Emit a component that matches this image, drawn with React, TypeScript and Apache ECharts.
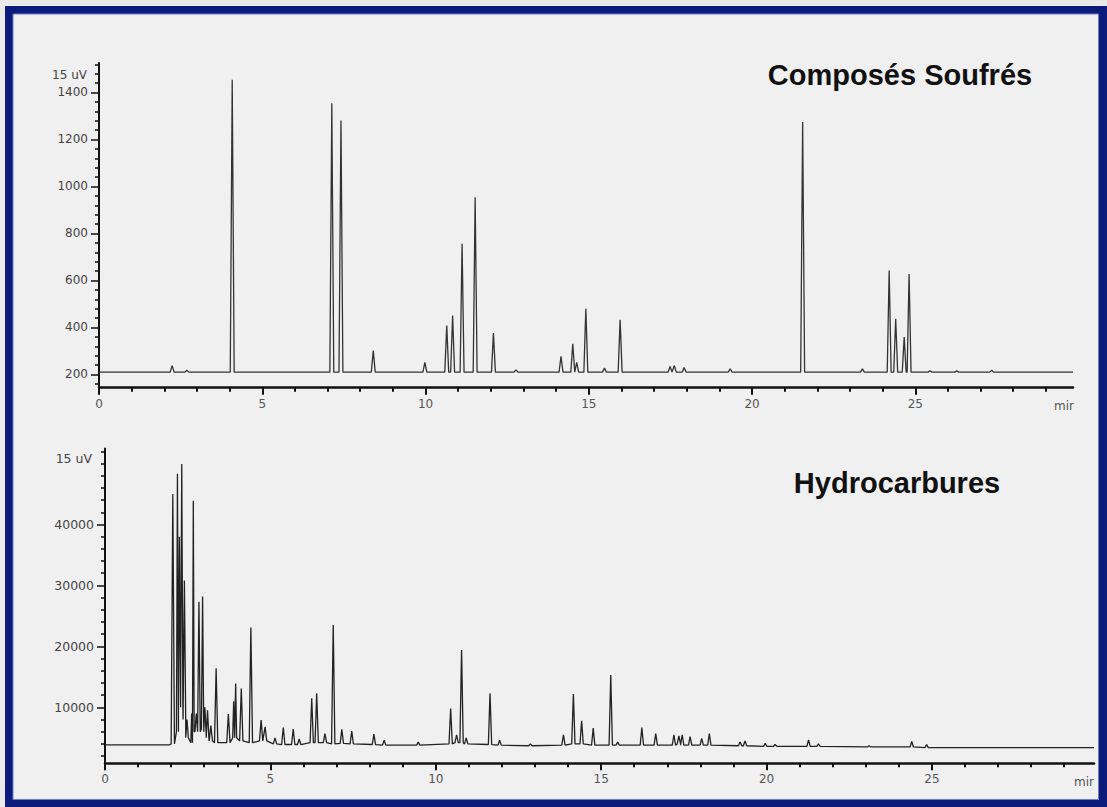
import React, { useEffect, useRef } from "react";
import * as echarts from "echarts";

// ---- Composés Soufrés (top chromatogram) ----
const sulfurTimes = [2.24, 2.69, 4.08, 7.13, 7.41, 8.4, 9.98, 10.65, 10.83, 11.12, 11.52, 12.08, 12.77, 14.15, 14.51, 14.63, 14.91, 15.48, 15.96, 17.49, 17.62, 17.92, 19.33, 21.55, 23.38, 24.2, 24.4, 24.66, 24.81, 25.45, 26.27, 27.34];
const sulfurHeights = [238, 218, 1454, 1354, 1281, 302, 252, 408, 451, 756, 954, 376, 220, 277, 331, 252, 480, 228, 433, 234, 238, 230, 224, 1274, 224, 642, 437, 359, 628, 216, 216, 218];
const sulfurBaseline = 210;
const sulfurEndTime = 29.83;

// ---- Hydrocarbures (bottom chromatogram) ----
const hcTimes = [2.05, 2.19, 2.25, 2.32, 2.4, 2.48, 2.62, 2.67, 2.76, 2.84, 2.95, 3.02, 3.1, 3.2, 3.36, 3.73, 3.89, 3.95, 4.12, 4.41, 4.72, 4.84, 5.14, 5.39, 5.69, 5.87, 6.25, 6.4, 6.65, 6.9, 7.16, 7.46, 8.13, 8.44, 9.47, 10.45, 10.63, 10.78, 10.92, 11.64, 11.93, 12.86, 13.86, 14.16, 14.41, 14.76, 15.29, 15.5, 16.23, 16.65, 17.2, 17.35, 17.45, 17.69, 18.04, 18.27, 19.2, 19.35, 19.96, 20.26, 21.27, 21.57, 23.1, 24.39, 24.84];
const hcHeights = [45000, 48300, 38000, 49900, 30800, 8000, 9000, 43900, 9000, 27300, 28200, 10000, 9500, 7000, 16400, 8900, 11000, 13900, 13100, 23100, 7900, 6800, 5000, 6700, 6450, 4800, 11500, 12300, 5700, 23500, 6400, 6100, 5600, 4600, 4300, 9800, 5500, 19400, 5000, 12300, 4600, 4000, 5500, 12200, 7800, 6600, 15300, 4300, 6700, 5700, 5500, 5300, 5500, 5200, 4900, 5700, 4300, 4500, 4100, 3900, 4650, 4000, 3700, 4400, 3900];
const hcFeet = [4000, 6000, 12000, 10000, 8000, 5000, 4200, 6000, 6000, 6000, 6500, 6000, 5000, 4500, 4200, 4200, 5000, 5000, 4500, 4200, 4500, 4500, 4000, 3900, 3900, 3900, 4200, 4200, 4200, 4000, 4100, 4000, 3900, 3800, 3800, 4000, 4200, 4200, 4000, 3900, 3800, 3700, 3800, 4000, 4000, 3800, 3800, 3800, 3800, 3800, 3800, 4000, 3800, 3800, 3800, 3800, 3700, 3700, 3600, 3600, 3600, 3600, 3500, 3500, 3400];
const hcStartLevel = 3830;
const hcFirstRise = 1.95;
const hcEndLevel = 3400;
const hcEndTime = 29.9;

// ---- Axis ticks ----
const xTicks = [0, 5, 10, 15, 20, 25];
const xMinorTicks = [1, 2, 3, 4, 6, 7, 8, 9, 11, 12, 13, 14, 16, 17, 18, 19, 21, 22, 23, 24, 26, 27, 28, 29];
const topYTicks = [200, 400, 600, 800, 1000, 1200, 1400];
const topYMinorTicks = [160, 240, 280, 320, 360, 440, 480, 520, 560, 640, 680, 720, 760, 840, 880, 920, 960, 1040, 1080, 1120, 1160, 1240, 1280, 1320, 1360, 1440, 1480, 1520];
const bottomYTicks = [10000, 20000, 30000, 40000];
const bottomYMinorTicks = [2000, 4000, 6000, 8000, 12000, 14000, 16000, 18000, 22000, 24000, 26000, 28000, 32000, 34000, 36000, 38000, 42000, 44000, 46000, 48000, 50000, 52000];

const topYMin = 143.8;
const topYMax = 1525.5;
const bottomYMin = 820;
const bottomYMax = 52460;

function buildTrace(
  times: number[],
  heights: number[],
  feet: number[],
  halfWidth: number,
  start: number[][],
  end: number[][]
) {
  const pts: number[][] = [...start];
  for (let i = 0; i < times.length; i++) {
    const t = times[i];
    let w = halfWidth;
    if (i > 0) w = Math.min(w, (t - times[i - 1]) / 2);
    if (i < times.length - 1) w = Math.min(w, (times[i + 1] - t) / 2);
    pts.push([t - w, feet[i]], [t, heights[i]], [t + w, feet[i]]);
  }
  return pts.concat(end);
}

const AXIS_COLOR = "#111";
const LABEL_FONT = "DejaVu Sans";
const plain = (v: number) => String(v);

function majorX(gridIndex: number, max: number) {
  return {
    type: "value",
    gridIndex,
    min: 0,
    max,
    position: "bottom",
    axisLine: { show: true, lineStyle: { color: AXIS_COLOR, width: 2.5 } },
    axisTick: { show: true, customValues: xTicks, length: 7, lineStyle: { color: AXIS_COLOR, width: 2 } },
    axisLabel: { show: true, customValues: xTicks, formatter: plain, margin: 10, fontSize: 12, color: "#555", fontFamily: LABEL_FONT },
    splitLine: { show: false },
  };
}
function minorX(gridIndex: number, max: number) {
  return {
    type: "value",
    gridIndex,
    min: 0,
    max,
    position: "bottom",
    axisLine: { show: false },
    axisTick: { show: true, customValues: xMinorTicks, length: 4, lineStyle: { color: AXIS_COLOR, width: 2 } },
    axisLabel: { show: false },
    splitLine: { show: false },
  };
}
function majorY(gridIndex: number, min: number, max: number, ticks: number[], fontSize: number) {
  return {
    type: "value",
    gridIndex,
    min,
    max,
    position: "left",
    axisLine: { show: true, lineStyle: { color: AXIS_COLOR, width: 2 } },
    axisTick: { show: true, customValues: ticks, length: 8, lineStyle: { color: AXIS_COLOR, width: 1.5 } },
    axisLabel: { show: true, customValues: ticks, formatter: plain, margin: 11, fontSize, color: "#444", fontFamily: LABEL_FONT },
    splitLine: { show: false },
  };
}
function minorY(gridIndex: number, min: number, max: number, ticks: number[]) {
  return {
    type: "value",
    gridIndex,
    min,
    max,
    position: "left",
    axisLine: { show: false },
    axisTick: { show: true, customValues: ticks, length: 4, lineStyle: { color: AXIS_COLOR, width: 1.5 } },
    axisLabel: { show: false },
    splitLine: { show: false },
  };
}

export default function App() {
  const ref = useRef<HTMLDivElement>(null);

  useEffect(() => {
    if (!ref.current) return;
    const chart = echarts.init(ref.current, undefined, { renderer: "svg" });

    const sulfurTrace = buildTrace(
      sulfurTimes,
      sulfurHeights,
      sulfurTimes.map(() => sulfurBaseline),
      0.06,
      [[0, sulfurBaseline]],
      [[sulfurEndTime, sulfurBaseline]]
    );
    const hcTrace = buildTrace(
      hcTimes,
      hcHeights,
      hcFeet,
      0.05,
      [[0, hcStartLevel], [hcFirstRise, hcStartLevel]],
      [[hcEndTime, hcEndLevel]]
    );

    const borderBlue = "#0c1a7c";
    const innerBlue = "#6b7fc4";

    chart.setOption({
      animation: false,
      backgroundColor: "#f0f0f0",
      grid: [
        { left: 99, top: 63, width: 974, height: 324.7 },
        { left: 105, top: 448.5, width: 989, height: 314.8 },
      ],
      xAxis: [
        majorX(0, sulfurEndTime),
        minorX(0, sulfurEndTime),
        majorX(1, hcEndTime),
        minorX(1, hcEndTime),
      ],
      yAxis: [
        majorY(0, topYMin, topYMax, topYTicks, 12),
        minorY(0, topYMin, topYMax, topYMinorTicks),
        majorY(1, bottomYMin, bottomYMax, bottomYTicks, 12.5),
        minorY(1, bottomYMin, bottomYMax, bottomYMinorTicks),
      ],
      series: [
        {
          name: "Composés Soufrés",
          type: "line",
          xAxisIndex: 0,
          yAxisIndex: 0,
          data: sulfurTrace,
          showSymbol: false,
          lineStyle: { color: "#333", width: 1.3 },
        },
        {
          name: "Hydrocarbures",
          type: "line",
          xAxisIndex: 2,
          yAxisIndex: 2,
          data: hcTrace,
          showSymbol: false,
          lineStyle: { color: "#222", width: 1.3 },
        },
      ],
      graphic: [
        { type: "rect", shape: { x: 0, y: 0, width: 1107, height: 807 }, style: { fill: "none", stroke: "#eaeaea", lineWidth: 10 }, silent: true },
        { type: "rect", shape: { x: 5, y: 6, width: 1102, height: 8 }, style: { fill: borderBlue }, silent: true },
        { type: "rect", shape: { x: 5, y: 6, width: 8, height: 801 }, style: { fill: borderBlue }, silent: true },
        { type: "rect", shape: { x: 1099, y: 6, width: 8, height: 801 }, style: { fill: borderBlue }, silent: true },
        { type: "rect", shape: { x: 5, y: 800, width: 1102, height: 7 }, style: { fill: borderBlue }, silent: true },
        { type: "rect", shape: { x: 13, y: 14, width: 1085.5, height: 785.5 }, style: { fill: "none", stroke: innerBlue, lineWidth: 1 }, silent: true },
        {
          type: "text",
          x: 900,
          y: 75,
          style: { text: "Composés Soufrés", fontSize: 29, fontWeight: "bold", fontFamily: "Liberation Sans, Arial", fill: "#111", align: "center", verticalAlign: "middle" },
        },
        {
          type: "text",
          x: 897,
          y: 483,
          style: { text: "Hydrocarbures", fontSize: 29, fontWeight: "bold", fontFamily: "Liberation Sans, Arial", fill: "#111", align: "center", verticalAlign: "middle" },
        },
        {
          type: "text",
          x: 87,
          y: 75,
          style: { text: "15 uV", fontSize: 12, fontFamily: LABEL_FONT, fill: "#444", align: "right", verticalAlign: "middle" },
        },
        {
          type: "text",
          x: 92,
          y: 458,
          style: { text: "15 uV", fontSize: 12.5, fontFamily: LABEL_FONT, fill: "#444", align: "right", verticalAlign: "middle" },
        },
        {
          type: "text",
          x: 1074,
          y: 406,
          style: { text: "mir", fontSize: 12, fontFamily: LABEL_FONT, fill: "#555", align: "right", verticalAlign: "middle" },
        },
        {
          type: "text",
          x: 1094,
          y: 782,
          style: { text: "mir", fontSize: 12, fontFamily: LABEL_FONT, fill: "#555", align: "right", verticalAlign: "middle" },
        },
      ],
    });

    return () => chart.dispose();
  }, []);

  return (
    <div
      ref={ref}
      style={{ position: "fixed", left: 0, top: 0, width: 1107, height: 807 }}
    />
  );
}
